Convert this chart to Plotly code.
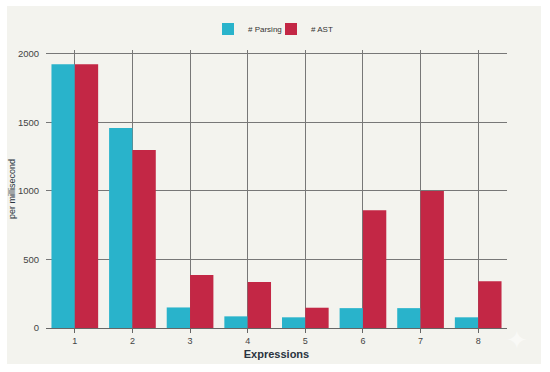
import plotly.graph_objects as go

categories = ["1", "2", "3", "4", "5", "6", "7", "8"]
parsing = [1925, 1460, 150, 85, 78, 145, 145, 78]
ast = [1925, 1300, 387, 335, 148, 860, 1000, 342]
y_ticks = [0, 500, 1000, 1500, 2000]

W, H = 550, 372
L, R, T, B = 46, 43, 50, 44
pw, ph = W - L - R, H - T - B

fig = go.Figure()
fig.add_bar(name="# Parsing", x=categories, y=parsing, marker_color="#29B3CB", marker_line_width=0,
            legend="legend", showlegend=True)
fig.add_bar(name="# AST", x=categories, y=ast, marker_color="#C32745", marker_line_width=0,
            legend="legend2", showlegend=True)

legend_common = dict(orientation="h", xanchor="left", y=1 + (T - 29) / ph, yanchor="middle",
                     font=dict(size=8, color="#333333"), itemwidth=30, bgcolor="rgba(0,0,0,0)")

fig.update_layout(
    width=W, height=H, barmode="group", bargap=0.19, bargroupgap=0, showlegend=True,
    paper_bgcolor="#FFFFFF", plot_bgcolor="rgba(0,0,0,0)",
    margin=dict(l=L, r=R, t=T, b=B, autoexpand=False),
    font=dict(family="Liberation Sans", size=9, color="#444444"),
    legend=dict(x=(208 - L) / pw, **legend_common),
    legend2=dict(x=(271 - L) / pw, **legend_common),
    shapes=[dict(type="rect", xref="paper", yref="paper", layer="below", line_width=0,
                 fillcolor="#F3F3EE", x0=(7 - L) / pw, x1=(541 - L) / pw,
                 y0=-(364 - (H - B)) / ph, y1=1 + (T - 6) / ph)],
    annotations=[dict(text="✦", xref="paper", yref="paper", x=(517 - L) / pw, y=-(340 - (H - B)) / ph,
                      xanchor="center", yanchor="middle",
                      showarrow=False, font=dict(size=26, color="#F9F9F6"))],
)
fig.update_xaxes(title=dict(text="<b>Expressions</b>", font=dict(size=11, color="#2A3340"), standoff=5),
                 showgrid=True, gridcolor="#777777", gridwidth=1, ticks="outside", ticklen=4,
                 tickcolor="#666666", showline=True, linecolor="#666666", tickfont=dict(size=9))
fig.update_yaxes(title=dict(text="per millisecond", font=dict(size=9, color="#2A3340"), standoff=0),
                 range=[0, 2029], tickvals=y_ticks, showgrid=True, gridcolor="#777777", gridwidth=1,
                 zeroline=False, ticks="outside", ticklen=4, tickcolor="rgba(0,0,0,0)", showline=False,
                 tickfont=dict(size=9.5))
fig.write_html("out.html", config={"displayModeBar": False}, post_script="document.body.style.margin='0';")
